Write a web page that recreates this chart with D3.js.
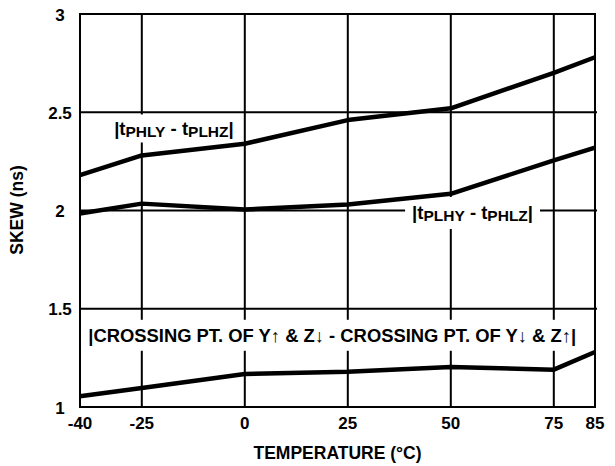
<!DOCTYPE html>
<html>
<head>
<meta charset="utf-8">
<script src="https://cdn.jsdelivr.net/npm/d3@7"></script>
<style>
  body { margin: 0; background: #fff; }
  text { font-family: "Liberation Sans", Arial, sans-serif; font-weight: bold; fill: #000; }
</style>
</head>
<body>
<div id="chart"></div>
<script>
// temperature points (°C) and skew values (ns)
const temps = [-40, -25, 0, 25, 50, 75, 85];
const skewPHLY_PLHZ = [2.18, 2.28, 2.34, 2.46, 2.52, 2.70, 2.78];
const skewPLHY_PHLZ = [1.985, 2.035, 2.005, 2.03, 2.085, 2.255, 2.32];
const skewCrossing = [1.055, 1.097, 1.168, 1.18, 1.204, 1.19, 1.28];

const xTicks = [-40, -25, 0, 25, 50, 75, 85];
const yTicks = [1, 1.5, 2, 2.5, 3];
const xGrid = [-25, 0, 25, 50, 75];
const yGrid = [1.5, 2, 2.5];

const W = 615, H = 466;
const margin = {top: 14, right: 20, bottom: 59, left: 80};
const width = W - margin.left - margin.right;
const height = H - margin.top - margin.bottom;

const svg = d3.select("#chart").append("svg")
    .attr("width", W)
    .attr("height", H);
const g = svg.append("g")
    .attr("transform", `translate(${margin.left},${margin.top})`);

const x = d3.scaleLinear().domain([-40, 85]).range([0, width]);
const y = d3.scaleLinear().domain([1, 3]).range([height, 0]);

// grid
g.selectAll(".vgrid").data(xGrid).enter().append("line")
    .attr("x1", d => x(d)).attr("x2", d => x(d))
    .attr("y1", 0).attr("y2", height)
    .attr("stroke", "#000").attr("stroke-width", 2);
g.selectAll(".hgrid").data(yGrid).enter().append("line")
    .attr("x1", 0).attr("x2", width + 2)
    .attr("y1", d => y(d)).attr("y2", d => y(d))
    .attr("stroke", "#000").attr("stroke-width", 2);

// curve labels, each with a white box that cuts the grid
function addLabel(px, py, parts, size, subSize, pad) {
    const t = g.append("text")
        .attr("x", px).attr("y", py)
        .attr("dominant-baseline", "central")
        .style("font-size", size + "px");
    parts.forEach(p => {
        const s = t.append("tspan").text(p.text);
        if (p.sub) s.style("font-size", subSize + "px").attr("dy", 3);
        if (p.up) s.attr("dy", -3);
    });
    const b = t.node().getBBox();
    g.insert("rect", "text")
        .attr("x", b.x - pad[0]).attr("y", b.y - pad[1])
        .attr("width", b.width + 2 * pad[0]).attr("height", b.height + 2 * pad[1])
        .attr("fill", "#fff");
    return t;
}

addLabel(x(-31.7), y(2.42), [
    {text: "|t"}, {text: "PHLY", sub: true}, {text: " - t", up: true},
    {text: "PLHZ", sub: true}, {text: "|", up: true}
], 18.5, 15.5, [2, 3]);

addLabel(x(40.6), y(1.99), [
    {text: "|t"}, {text: "PLHY", sub: true}, {text: " - t", up: true},
    {text: "PHLZ", sub: true}, {text: "|", up: true}
], 18.5, 15.5, [7, 5]);

addLabel(x(-38), y(1.365),
    [{text: "|CROSSING PT. OF Y\u2191 & Z\u2193 - CROSSING PT. OF Y\u2193 & Z\u2191|"}],
    18.4, 18.4, [6, 5]);

// series
const line = d3.line().x(d => x(d[0])).y(d => y(d[1]));
[skewPHLY_PLHZ, skewPLHY_PHLZ, skewCrossing].forEach(vals => {
    g.append("path")
        .datum(temps.map((t, i) => [t, vals[i]]))
        .attr("fill", "none")
        .attr("stroke", "#000")
        .attr("stroke-width", 4.5)
        .attr("stroke-linejoin", "round")
        .attr("d", line);
});

// frame
g.append("rect")
    .attr("width", width).attr("height", height)
    .attr("fill", "none").attr("stroke", "#000").attr("stroke-width", 2);

// tick labels
g.selectAll(".xt").data(xTicks).enter().append("text")
    .attr("x", d => x(d)).attr("y", height + 16)
    .attr("text-anchor", "middle")
    .attr("dominant-baseline", "central")
    .style("font-size", "17px")
    .text(d => d);
g.selectAll(".yt").data(yTicks).enter().append("text")
    .attr("x", -20).attr("y", d => y(d) + 1)
    .attr("text-anchor", "middle")
    .attr("dominant-baseline", "central")
    .style("font-size", "17px")
    .text(d => d);

// axis titles
g.append("text")
    .attr("x", x(22.5)).attr("y", height + 46)
    .attr("text-anchor", "middle")
    .attr("dominant-baseline", "central")
    .style("font-size", "17.5px")
    .text("TEMPERATURE (°C)");
g.append("text")
    .attr("transform", `translate(${17 - margin.left},${196}) rotate(-90)`)
    .attr("text-anchor", "middle")
    .attr("dominant-baseline", "central")
    .style("font-size", "17.5px")
    .text("SKEW (ns)");
</script>
</body>
</html>
